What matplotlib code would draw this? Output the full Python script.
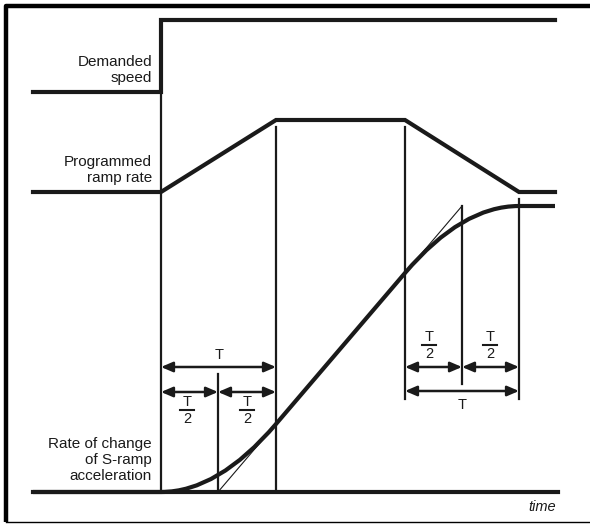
import matplotlib
matplotlib.use('Agg')
import matplotlib.pyplot as plt
from matplotlib.path import Path
from matplotlib.patches import PathPatch

plt.rcParams['font.family'] = ['Liberation Sans', 'DejaVu Sans']
INK = '#1a1a1a'

# signal traces (diagram units: x to the right, y downward)
demand_x = [33, 161, 161, 555]
demand_y = [92, 92, 20, 20]
ramp_x = [33, 161, 276, 405, 519, 555]
ramp_y = [192, 192, 120, 120, 192, 192]
base_x = [33, 558]
base_y = [492, 492]

# S-curve key points: start, bend control, joins, end
scurve_pts = [(33, 492), (161, 492), (218, 492), (276, 424),
              (405, 273), (462, 206), (519, 206), (555, 206)]
tangent_lines = [((218, 492), (276, 424)), ((405, 273), (462, 206))]

# vertical markers: x, top, bottom
verticals = [(161, 95, 492), (276, 127, 492), (218, 374, 492),
             (405, 127, 399), (462, 206, 384), (519, 199, 399)]

# dimension arrows: x0, x1, y
arrows = [(161, 276, 367), (161, 218, 392), (218, 276, 392),
          (405, 462, 367), (462, 519, 367), (405, 519, 391)]
t_labels = [(219, 359), (462, 409)]          # x, baseline
half_labels = [(187, 406), (247, 406), (429, 341), (490, 341)]  # x, T baseline

labels = [('Demanded', 66), ('speed', 82),
          ('Programmed', 166), ('ramp rate', 182),
          ('Rate of change', 448), ('of S-ramp', 464), ('acceleration', 480)]

fig = plt.figure(figsize=(5.9, 5.24), dpi=100)
ax = fig.add_axes([0, 0, 1, 1])
ax.set_xlim(0, 590)
ax.set_ylim(524, 0)
ax.axis('off')

# frame
ax.plot([6, 6, 590], [522, 6, 6], color='black', lw=3.2, solid_capstyle='butt')
ax.plot([6, 590], [522, 522], color='black', lw=1.0)

ax.plot(demand_x, demand_y, color=INK, lw=3.0, solid_joinstyle='miter')
ax.plot(ramp_x, ramp_y, color=INK, lw=3.0, solid_joinstyle='miter')
ax.plot(base_x, base_y, color=INK, lw=3.0)

codes = [Path.MOVETO, Path.LINETO, Path.CURVE3, Path.CURVE3,
         Path.LINETO, Path.CURVE3, Path.CURVE3, Path.LINETO]
ax.add_patch(PathPatch(Path(scurve_pts, codes), fill=False, ec=INK, lw=3.0))
for (p0, p1) in tangent_lines:
    ax.plot([p0[0], p1[0]], [p0[1], p1[1]], color=INK, lw=0.8)

for x, y0, y1 in verticals:
    ax.plot([x, x], [y0, y1], color=INK, lw=1.6)

for x0, x1, y in arrows:
    ax.annotate('', xy=(x1, y), xytext=(x0, y),
                arrowprops=dict(arrowstyle='<|-|>,head_length=0.7,head_width=0.3',
                                color=INK, lw=1.8, shrinkA=0, shrinkB=0))

for x, y in t_labels:
    ax.text(x, y, 'T', fontsize=10.5, ha='center', va='baseline', color=INK)
for x, y in half_labels:
    ax.text(x, y, 'T', fontsize=10.5, ha='center', va='baseline', color=INK)
    ax.plot([x - 7, x + 7], [y + 4, y + 4], color=INK, lw=1.5)
    ax.text(x, y + 17, '2', fontsize=10.5, ha='center', va='baseline', color=INK)

for s, y in labels:
    ax.text(152, y, s, fontsize=11, ha='right', va='baseline', color=INK)
ax.text(556, 511, 'time', fontsize=10.5, style='italic', ha='right',
        va='baseline', color=INK)

fig.savefig('out.png', dpi=100)
